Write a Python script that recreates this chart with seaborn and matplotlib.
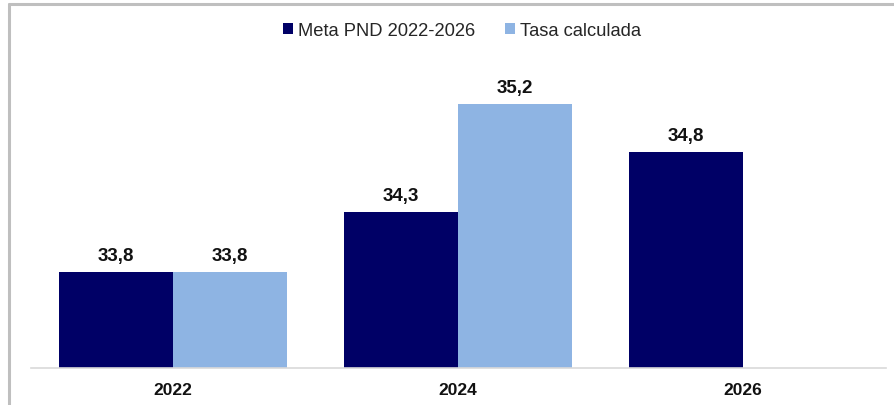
import matplotlib
matplotlib.use("Agg")
import matplotlib.pyplot as plt
from matplotlib.lines import Line2D
from matplotlib.patches import Patch
import seaborn as sns
import pandas as pd
import numpy as np

years = ["2022", "2024", "2026"]
meta_pnd = [33.8, 34.3, 34.8]
tasa_calculada = [33.8, 35.2, np.nan]
series_names = ["Meta PND 2022-2026", "Tasa calculada"]
colors = ["#000066", "#8EB4E3"]

df = pd.DataFrame({
    "year": years * 2,
    "value": meta_pnd + tasa_calculada,
    "serie": [series_names[0]] * 3 + [series_names[1]] * 3,
})

sns.set_style("white")
plt.rcParams["font.family"] = ["Liberation Sans", "DejaVu Sans"]

W, H = 894, 406
fig = plt.figure(figsize=(W / 100, H / 100), dpi=100)
# axes placed in pixel terms: baseline at y=368.7, categories from x=30.5 to 885.5
bottom_px, top_px = 368.7, 60.0
ax = fig.add_axes([30.5 / W, (H - bottom_px) / H, 855 / W, (bottom_px - top_px) / H])

sns.barplot(data=df, x="year", y="value", hue="serie", palette=colors,
            width=0.8, saturation=1, linewidth=0, ax=ax, legend=False)

ymin = 33.0
ax.set_ylim(ymin, ymin + (bottom_px - top_px) / 119.7)
ax.set_xlim(-0.5, 2.5)

for cont in ax.containers:
    labels = []
    for b in cont:
        h = b.get_height()
        labels.append("" if np.isnan(h) else f"{h:.1f}".replace(".", ","))
    ax.bar_label(cont, labels=labels, padding=6, fontsize=13.5, fontweight="bold",
                 color="#111111")

for s in ["left", "right", "top"]:
    ax.spines[s].set_visible(False)
ax.spines["bottom"].set_color("#D9D9D9")
ax.spines["bottom"].set_linewidth(1.2)
ax.set_yticks([])
ax.set_xlabel("")
ax.set_ylabel("")
ax.tick_params(axis="x", length=0, pad=10, labelsize=12.5, labelcolor="#111111")
for t in ax.get_xticklabels():
    t.set_fontweight("bold")

handles = [Patch(facecolor=c, edgecolor="none") for c in colors]
fig.legend(handles, series_names, loc="center", bbox_to_anchor=(462 / W, 1 - 31.5 / H),
           ncol=2, frameon=False, fontsize=13.2, handlelength=0.55, handleheight=0.55,
           handletextpad=0.3, columnspacing=1.6)

# outer chart frame (left and top edges visible)
fig.add_artist(Line2D([8.5 / W, 8.5 / W], [0, 1 - 5 / H], color="#BFBFBF", lw=2.2,
                      transform=fig.transFigure))
fig.add_artist(Line2D([8.5 / W, 1], [1 - 5 / H, 1 - 5 / H], color="#BFBFBF", lw=2.2,
                      transform=fig.transFigure))

fig.savefig("out.png", dpi=100)
